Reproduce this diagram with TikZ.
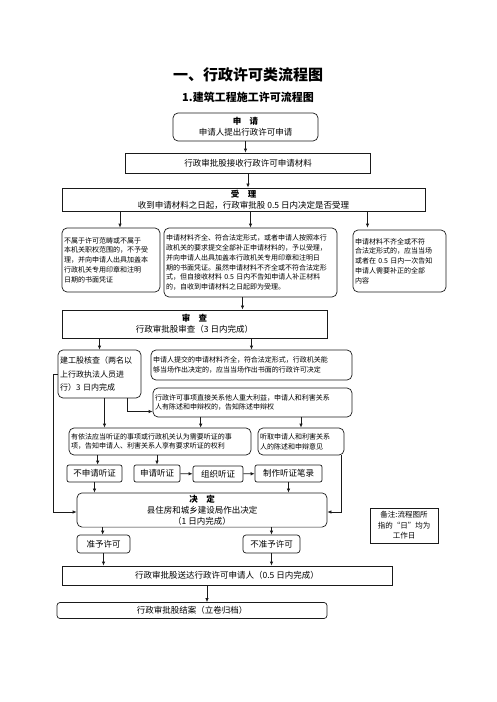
\documentclass[tikz,border=0pt]{standalone}
\usepackage{fontspec}
\setmainfont{Noto Sans CJK SC}
\usetikzlibrary{arrows.meta,positioning,calc}
\definecolor{ink}{HTML}{1A1A1A}

\begin{document}
\begin{tikzpicture}[x=1pt,y=-1pt,
  rbox/.style={draw=ink,rounded corners=5pt,line width=0.7pt,inner sep=2pt,align=center},
  sbox/.style={draw=ink,line width=0.7pt,inner sep=2pt,align=center},
  txt/.style={font=\fontsize{7}{9.8}\selectfont,align=left},
  mid/.style={font=\fontsize{8.5}{11}\selectfont},
  arr/.style={-{Latex[length=4pt,width=3.5pt]},line width=0.7pt,draw=ink}]
\useasboundingbox (0,0) rectangle (496,702);
% titles
\node[font=\fontsize{15}{18}\selectfont\bfseries] (title) at (248,75) {一、行政许可类流程图};
\node[font=\fontsize{11}{13}\selectfont\bfseries] (sub) at (248,97) {1.建筑工程施工许可流程图};
% apply and accept
\node[rbox,mid,minimum width=145pt,minimum height=28pt] (apply) at (245.5,127)
  {\textbf{申\quad 请}\\申请人提出行政许可申请};
\node[sbox,mid,minimum width=245pt,minimum height=20pt] (receive) at (248,163) {行政审批股接收行政许可申请材料};
\node[sbox,mid,minimum width=363pt,minimum height=23pt] (accept) at (243.5,199.5)
  {\textbf{受\quad 理}\\收到申请材料之日起，行政审批股 0.5 日内决定是否受理};
\node[rbox,txt,text width=94pt,minimum height=64pt] (reject) at (111,260)
  {不属于许可范畴或不属于\\本机关职权范围的，不予受\\理，并向申请人出具加盖本\\行政机关专用印章和注明\\日期的书面凭证};
\node[rbox,txt,text width=169pt,minimum height=69pt] (ok) at (250.5,262.5)
  {申请材料齐全、符合法定形式，或者申请人按照本行\\政机关的要求提交全部补正申请材料的，予以受理，\\并向申请人出具加盖本行政机关专用印章和注明日\\期的书面凭证。虽然申请材料不齐全或不符合法定形\\式，但自接收材料 0.5 日内不告知申请人补正材料\\的，自收到申请材料之日起即为受理。};
\node[rbox,txt,text width=89pt,minimum height=62pt] (amend) at (399.5,261)
  {申请材料不齐全或不符\\合法定形式的，应当当场\\或者在 0.5 日内一次告知\\申请人需要补正的全部\\内容};
% review
\node[sbox,mid,line width=1pt,minimum width=265pt,minimum height=28pt] (review) at (194.5,324)
  {\textbf{审\quad 查}\\行政审批股审查（3 日内完成）};
\node[rbox,font=\fontsize{8}{13.5}\selectfont,align=left,text width=79pt,minimum height=48pt] (check) at (99.5,374)
  {建工股核查（两名以\\上行政执法人员进\\行）3 日内完成};
\node[rbox,txt,text width=197pt,minimum height=30pt] (spot) at (251.5,365)
  {申请人提交的申请材料齐全，符合法定形式，行政机关能\\够当场作出决定的，应当当场作出书面的行政许可决定};
\node[rbox,txt,text width=195pt,minimum height=29pt] (notify) at (252.5,402.5)
  {行政许可事项直接关系他人重大利益，申请人和利害关系\\人有陈述和申辩权的，告知陈述申辩权};
\node[rbox,txt,text width=178pt,minimum height=27pt] (hearing) at (160,441.5)
  {有依法应当听证的事项或行政机关认为需要听证的事\\项，告知申请人、利害关系人享有要求听证的权利};
\node[rbox,txt,text width=82pt,minimum height=27pt] (listen) at (301,441.5)
  {听取申请人和利害关系\\人的陈述和申辩意见};
% hearing steps
\node[rbox,mid,rounded corners=2pt,minimum width=55pt,minimum height=17pt] (nohear) at (94.5,473.5) {不申请听证};
\node[rbox,mid,rounded corners=2pt,minimum width=46pt,minimum height=17pt] (askhear) at (157,473.5) {申请听证};
\node[rbox,mid,rounded corners=2pt,minimum width=50pt,minimum height=16pt] (hold) at (218,474) {组织听证};
\node[rbox,mid,rounded corners=2pt,minimum width=67pt,minimum height=17pt] (record) at (288.5,473.5) {制作听证笔录};
% decision
\node[rbox,mid,minimum width=250pt,minimum height=34pt] (decide) at (202,510)
  {\textbf{决\quad 定}\\县住房和城乡建设局作出决定\\（1 日内完成）};
\node[sbox,font=\fontsize{7.5}{10.5}\selectfont,minimum width=68pt,minimum height=35pt] (note) at (404,525.5)
  {备注:流程图所\\指的“日”均为\\工作日};
\node[rbox,mid,rounded corners=3pt,minimum width=53pt,minimum height=18pt] (grant) at (103.5,544) {准予许可};
\node[rbox,mid,rounded corners=3pt,minimum width=57pt,minimum height=18pt] (deny) at (271.5,544) {不准予许可};
\node[sbox,mid,minimum width=330pt,minimum height=19pt] (deliver) at (227,575.5) {行政审批股送达行政许可申请人（0.5 日内完成）};
\node[rbox,mid,rounded corners=3pt,minimum width=270pt,minimum height=16pt] (close) at (192,610.5) {行政审批股结案（立卷归档）};
% connectors
\draw[arr] (apply.south) -- (apply.south |- receive.north);
\draw[arr] (receive.south) -- (receive.south |- accept.north);
\draw[arr] ([xshift=9pt]reject.north |- accept.south) -- ([xshift=9pt]reject.north);
\draw[arr] (ok.north |- accept.south) -- (ok.north);
\draw[arr] ([xshift=-32pt]amend.north |- accept.south) -- ([xshift=-32pt]amend.north |- reject.north);
\draw[arr] ([xshift=-8pt]ok.south) -- ([xshift=-8pt]ok.south |- review.north);
\draw[arr] (check.north |- review.south) -- (check.north);
\draw[arr] (spot.north |- review.south) -- (spot.north);
\draw[arr] ([xshift=28pt]check.south) |- ([yshift=-9pt]notify.west);
\draw[arr] ([xshift=5pt]check.south) -- ([xshift=5pt]check.south |- hearing.north);
\draw[arr] ([xshift=48pt]notify.south west) -- ([xshift=48pt]notify.south west |- hearing.north);
\draw[arr] (listen.north |- notify.south) -- (listen.north);
\draw[arr] ([xshift=29pt]hearing.south west) -- ([xshift=29pt]hearing.south west |- nohear.north);
\draw[arr] (askhear.north |- hearing.south) -- (askhear.north);
\draw[arr] (askhear) -- (hold);
\draw[arr] (hold) -- (record);
\draw[arr] (nohear.south) -- (nohear.south |- decide.north);
\draw[arr] (record.south) -- (record.south |- decide.north);
\draw[arr] ([xshift=-3pt]listen.south east) |- ([yshift=-2pt]decide.east);
\draw[arr] (check.west) -- ++(-4,0) |- ([yshift=-2pt]decide.west);
\draw[arr] ([xshift=26pt]decide.south west) -- ([xshift=26pt]decide.south west |- grant.north);
\draw[arr] (deny.north |- decide.south) -- (deny.north);
\draw[arr] (grant.south) -- (grant.south |- deliver.north);
\draw[arr] (deny.south) -- (deny.south |- deliver.north);
\draw[arr] ([xshift=-20pt]deliver.south) -- ([xshift=-20pt]deliver.south |- close.north);
\end{tikzpicture}
\end{document}
